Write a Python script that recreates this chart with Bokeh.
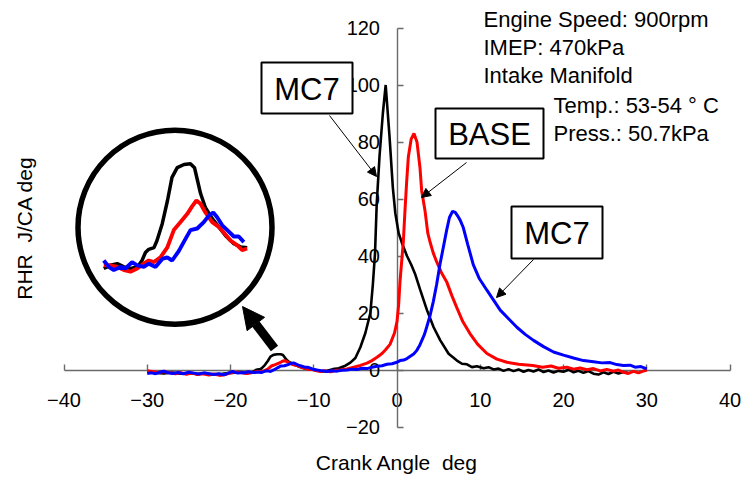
from bokeh.plotting import figure
from bokeh.models import Range1d, Label, BoxAnnotation, Arrow, NormalHead, FixedTicker
from bokeh.embed import file_html
from bokeh.resources import INLINE
import numpy as np

# ---------------- data ----------------
x_ticks = [-40, -30, -20, -10, 0, 10, 20, 30, 40]
y_ticks = [-20, 0, 20, 40, 60, 80, 100, 120]

black_angle = [-30, -29, -28, -27, -26, -25, -24, -23, -22, -21, -20.2, -19.75, -19.3, -18.85, -18.4,
               -17.97, -17.5, -17.2, -16.97, -16.75, -16.4, -16.2, -15.85, -15.5, -15.2, -14.85, -14.4,
               -13.97, -13.7, -13.5, -13.3, -12.97, -12.5, -12.08, -11.63, -11.08, -10.63, -10.19, -9.6,
               -9.0, -8.4, -7.7, -7.0, -6.2, -5.6, -5.0, -4.4, -3.8, -3.2, -2.9, -2.64, -2.44, -2.1, -1.7,
               -1.36, -0.9, -0.5, -0.2, 0.2, 0.6, 1.2, 1.7, 2.2, 2.8, 3.6, 4.4, 5.2, 6.2, 7.2, 7.8, 8.4,
               9.0, 9.6, 10.4, 11.0, 11.6, 12.2, 12.8, 13.4, 14.0, 14.6, 15.2, 15.8, 16.4, 17.0, 17.6,
               18.2, 18.8, 19.4, 20.0, 20.6, 21.2, 21.8, 22.4, 23.0, 23.6, 24.2, 24.8, 25.4, 26.0, 26.6,
               27.2, 27.8]
black_rhr = [-0.8, -1.0, -1.2, -0.9, -1.3, -1.1, -1.4, -1.2, -1.5, -1.3, -1.1, -1.0, -0.8, -0.7, -0.9,
             -1.0, -0.9, -0.5, 0.0, 0.2, 0.3, 0.75, 1.8, 3.25, 4.7, 5.3, 5.5,
             5.55, 5.3, 4.5, 3.7, 2.8, 2.1, 1.6, 1.05, 0.55, 0.35, 0.3, -0.2,
             -0.5, -0.3, 0.3, 0.6, 1.5, 2.6, 4.2, 8.0, 13.0, 20.0, 30.0, 41.0, 58.0, 75.0, 90.0,
             100.0, 82.0, 64.0, 55.0, 48.0, 44.5, 40.0, 37.0, 33.5, 28.0, 21.0, 15.0, 10.4, 5.7, 3.3, 2.2, 2.0,
             1.0, 1.3, 0.6, 1.0, 0.2, 0.5, -0.3, 0.3, -0.4, 0.2, -0.6, 0.0, -0.5, 0.2, -0.7,
             -0.2, -0.9, -0.3, -0.6, 0.1, -0.8, -0.3, -1.0, -0.4, -1.3, -1.6, -0.8, -1.4, -0.6, -1.2,
             -0.7, -1.1]

base_angle = [-30, -29.3, -28.6, -28, -27.3, -26.6, -26, -25.3, -24.6, -24, -23.3, -22.6, -22, -21.3,
              -20.6, -20.2, -19.75, -19.3, -18.85, -18.4, -17.97, -17.52, -17.08, -16.75, -16.41, -15.97,
              -15.52, -15.08, -14.63, -14.19, -13.85, -13.57, -13.3, -12.97, -12.52, -12.08, -11.75, -11.3,
              -10.85, -10.52, -10.19, -9.8, -9.2, -8.6, -8.0, -7.4, -6.8, -6.0, -5.2, -4.4, -3.6, -3.0,
              -2.4, -1.8, -1.4, -0.84, -0.3, 0.0, 0.2, 0.36, 0.56, 0.76, 0.96, 1.16, 1.36, 1.7, 2.04, 2.4,
              2.76, 2.96, 3.36, 3.7, 3.96, 4.36, 4.76, 5.36, 5.96, 6.6, 7.17, 7.9, 8.76, 9.7, 10.8, 12.0,
              13.2, 14.6, 16.3, 17.5, 18.5, 19.4, 20.4, 21.2, 22.0, 22.8, 23.6, 24.4, 25.2, 26.0, 26.6,
              27.2, 27.8, 28.4, 29.0, 29.5, 30.0]
base_rhr = [-0.3, -0.6, -0.9, -0.5, -1.0, -1.3, -0.9, -1.5, -1.1, -1.6, -1.3, -1.8, -1.4, -1.9,
            -1.6, -1.2, -0.8, -0.8, -0.9, -1.1, -1.2, -1.0, -0.7, -0.5, -0.6, -0.3,
            0.3, 1.4, 1.9, 2.4, 2.9, 3.25, 3.05, 2.5, 1.9, 1.6, 1.25, 0.75,
            0.45, 0.15, 0.25, -0.2, -0.5, -0.3, -0.6, -0.2, 0.0, 0.4, 1.0, 1.6, 2.4, 3.3,
            4.5, 5.8, 7.0, 9.0, 13.0, 17.0, 23.0, 31.0, 38.0, 45.0, 56.0, 66.0, 74.7, 81.0, 83.0, 80.0,
            71.0, 63.0, 56.0, 48.0, 45.0, 41.0, 38.0, 34.0, 31.0, 26.0, 22.0, 17.0, 12.8, 9.0, 5.8, 3.8,
            2.7, 2.0, 1.6, 1.0, 1.4, 0.6, 1.0, 0.3, 0.7, 0.1, 0.5, -0.3, 0.2, -0.4, 0.0,
            -0.8, -1.2, -0.5, -1.0, -0.5, 0.0]

mc7_angle = [-30, -29.5, -29, -28.4, -28.0, -27.5, -26.9, -26.3, -25.7, -25.0, -24.4, -23.8, -23.2,
             -22.6, -22.0, -21.4, -20.8, -20.2, -19.75, -19.41, -19.08, -18.63, -18.3, -17.86, -17.52,
             -17.08, -16.75, -16.3, -15.85, -15.52, -15.19, -14.74, -14.3, -13.97, -13.52, -13.08, -12.75,
             -12.45, -12.19, -11.85, -11.41, -11.08, -10.75, -10.41, -10.08, -9.6, -9.0, -8.4, -7.8, -7.2,
             -6.6, -6.0, -5.4, -4.8, -4.2, -3.6, -3.0, -2.4, -1.8, -1.2, -0.6, 0.0, 0.36, 0.8, 1.2, 1.6,
             2.0, 2.36, 2.7, 3.0, 3.3, 3.56, 3.96, 4.36, 4.76, 5.16, 5.56, 5.96, 6.3, 6.68, 7.0, 7.3, 7.6,
             7.96, 8.5, 9.16, 9.9, 10.8, 11.6, 12.4, 13.4, 14.4, 15.4, 16.4, 17.6, 18.8, 20.0, 21.2, 22.4,
             23.6, 24.6, 25.6, 26.4, 27.2, 28.0, 28.6, 29.3, 30.0]
mc7_rhr = [-1.2, -1.0, -1.3, -0.7, -0.4, -1.0, -1.2, -0.9, -1.3, -0.8, -1.1, -1.4, -1.0,
           -1.3, -1.6, -1.3, -1.7, -1.0, -0.5, -0.9, -1.1, -0.9, -1.0, -0.6, -0.8,
           -0.9, -0.7, -0.9, -0.4, -0.3, -0.5, 0.1, 0.85, 1.4, 1.5, 1.9, 2.3,
           2.5, 2.2, 1.7, 1.3, 1.0, 1.0, 0.65, 0.25, 0.0, -0.3, -0.5, -0.3, -0.4,
           -0.1, 0.0, 0.3, 0.2, 0.6, 0.5, 1.0, 1.3, 1.5, 2.0, 2.2, 2.7, 3.3, 3.5, 4.0, 4.8,
           5.6, 6.8, 8.5, 10.5, 12.5, 15.0, 19.0, 24.0, 30.0, 37.0, 43.0, 49.0, 53.5, 55.7, 55.3, 54.0, 52.5,
           50.0, 44.0, 37.0, 32.0, 28.0, 24.5, 21.0, 18.0, 15.0, 12.5, 10.4, 8.2, 6.3, 5.2, 4.2, 3.3,
           2.9, 2.5, 2.6, 1.9, 1.6, 1.7, 1.0, 1.2, 0.4]

zoom_window = (-19.8, -10.1)   # crank-angle window shown magnified in the circle

# ---------------- geometry ----------------
W, H = 743, 477
X0, SX = 396.5, 8.325     # pixel of x=0, pixels per degree
Y0, SY = 369.5, 2.85      # pixel of y=0, pixels per J/deg


def X(px):
    return (px - X0) / SX


def Y(py):
    return (Y0 - py) / SY


FONT = "Liberation Sans"
NB = "\u00a0"

p = figure(width=W, height=H, output_backend="svg", toolbar_location=None,
           x_range=Range1d(X(0), X(W)), y_range=Range1d(Y(H), Y(0)),
           min_border=0, min_border_left=0, min_border_right=0,
           min_border_top=0, min_border_bottom=0)
p.grid.visible = False
p.outline_line_color = None
p.background_fill_color = "white"

# magnified view (circle inset) on its own scales
IX0, ISX = 185 + 14.3 * 15, 15.0      # inset: px = IX0 + ISX*x
IY0, ISY = 268 - 16.0, 16.0           # inset: py = IY0 - ISY*y
p.extra_x_ranges = {"inset": Range1d((0 - IX0) / ISX, (W - IX0) / ISX)}
p.extra_y_ranges = {"inset": Range1d((IY0 - H) / ISY, (IY0 - 0) / ISY)}

for ax in (p.xaxis[0], p.yaxis[0]):
    ax.fixed_location = 0
    ax.axis_line_color = "#6a6a6a"
    ax.axis_line_width = 1.4
    ax.major_tick_line_color = "#6a6a6a"
    ax.major_tick_line_width = 1.4
    ax.major_tick_in = 6
    ax.major_tick_out = 0
    ax.minor_tick_in = 0
    ax.minor_tick_out = 0
    ax.major_label_text_font = FONT
    ax.major_label_text_font_size = "20px"
    ax.major_label_text_color = "black"
    ax.level = "underlay"

p.xaxis[0].ticker = FixedTicker(ticks=x_ticks)
p.yaxis[0].ticker = FixedTicker(ticks=y_ticks)
p.xaxis[0].bounds = (x_ticks[0], x_ticks[-1])
p.yaxis[0].bounds = (y_ticks[0], y_ticks[-1])
p.xaxis[0].major_label_standoff = 23
p.yaxis[0].major_label_standoff = 17

# ---------------- curves ----------------
series = [(black_angle, black_rhr, "black", 2.6),
          (base_angle, base_rhr, "#ff0000", 3.0),
          (mc7_angle, mc7_rhr, "#0000ff", 3.0)]
for xs, ys, col, lw in series:
    p.line(xs, ys, line_color=col, line_width=lw)

for xs, ys, col, lw in series:
    xa, ya = np.array(xs), np.array(ys)
    m = (xa >= zoom_window[0]) & (xa <= zoom_window[1])
    p.line(xa[m], ya[m], line_color=col, line_width=lw + 0.9,
           x_range_name="inset", y_range_name="inset")

# circle around the magnified view
p.scatter([X(174.5)], [Y(226.7)], size=194, marker="circle", fill_color=None,
          line_color="black", line_width=5.5)

# thick arrow from the small bump to the circle
p.add_layout(Arrow(end=NormalHead(size=22, fill_color="black", line_color="black"),
                   x_start=X(274), y_start=Y(348), x_end=X(242), y_end=Y(306),
                   line_color="black", line_width=9))

# ---------------- labelled boxes with arrows ----------------
boxes = [("MC7", 261, 352, 62, 113, (329, 115), (376, 176)),
         ("BASE", 435, 543, 108, 158, (466, 162), (421, 197)),
         ("MC7", 511, 602, 206, 258, (533, 259), (496, 297))]
for txt, l, r, t, b, (sx, sy), (ex, ey) in boxes:
    p.add_layout(BoxAnnotation(left=X(l), right=X(r), top=Y(t), bottom=Y(b),
                               fill_color="white", fill_alpha=1.0,
                               line_color="black", line_width=2, line_alpha=1.0))
    p.add_layout(Label(x=X((l + r) / 2), y=Y((t + b) / 2 + 1), text=txt,
                       text_font=FONT, text_font_size="31px", text_color="black",
                       text_align="center", text_baseline="middle"))
    p.add_layout(Arrow(end=NormalHead(size=9, fill_color="black", line_color="black", line_width=1),
                       x_start=X(sx), y_start=Y(sy), x_end=X(ex), y_end=Y(ey),
                       line_color="black", line_width=1))

# ---------------- condition text (positions = cap centres) ----------------
cond = [("Engine Speed: 900rpm", 483, 18),
        ("IMEP: 470kPa", 483, 46),
        ("Intake Manifold", 483, 74),
        ("Temp.: 53-54 \u00b0 C", 553, 104),
        ("Press.: 50.7kPa", 553, 132)]
for txt, px, py in cond:
    p.add_layout(Label(x=X(px), y=Y(py + 1), text=txt, text_font=FONT, text_font_size="22px",
                       text_color="black", text_align="left", text_baseline="middle"))

# ---------------- axis titles ----------------
p.add_layout(Label(x=X(396.5), y=Y(461.5), text="Crank Angle " + NB + "deg", text_font=FONT,
                   text_font_size="21px", text_color="black", text_align="center",
                   text_baseline="middle"))
p.add_layout(Label(x=X(24), y=Y(227.5), text="RHR " + NB + "J/CA deg", text_font=FONT,
                   text_font_size="21px", text_color="black", text_align="center",
                   text_baseline="middle", angle=np.pi / 2))

open("out.html", "w").write(file_html(p, INLINE))
